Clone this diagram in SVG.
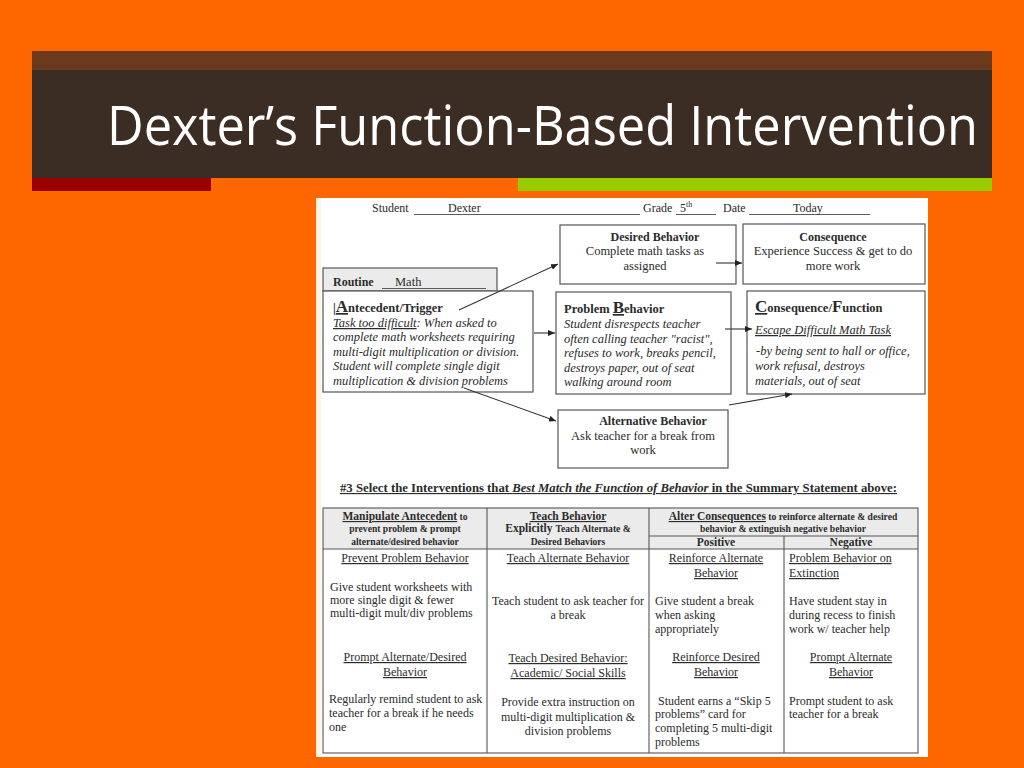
<svg xmlns="http://www.w3.org/2000/svg" width="1024" height="768" viewBox="0 0 1024 768">
<style>
  .t{font-family:"Liberation Serif","Times New Roman",serif;font-size:12.5px;fill:#2b2b2b}
  .b{font-weight:bold}
  .i{font-style:italic}
  .m{text-anchor:middle}
  .u{text-decoration:underline}
  .s{font-size:12px}
  .h{font-size:11.5px;font-weight:bold}
  .hs{font-size:9.6px;font-weight:bold}
  .box{fill:#fff;stroke:#555;stroke-width:1.2}
  .grid{stroke:#555;stroke-width:1.1;fill:none}
  .con{stroke:#333;stroke-width:1.1;fill:none;marker-end:url(#ah)}
</style>
<defs>
  <marker id="ah" markerUnits="userSpaceOnUse" markerWidth="7" markerHeight="6" refX="7" refY="3" orient="auto">
    <path d="M0,0 L7,3 L0,6 Z" fill="#222"/>
  </marker>
</defs>
<rect width="1024" height="768" fill="#FE6600"/>
<g id="header">
  <rect x="32" y="51" width="960" height="19" fill="#6B3A1C"/>
  <rect x="32" y="70" width="960" height="108" fill="#3B2D24"/>
  <rect x="32" y="178" width="179" height="13" fill="#990000"/>
  <rect x="518" y="178" width="474" height="13" fill="#99CC00"/>
  <text transform="matrix(0.84,0,0,1,107,145)" x="0" y="0" font-family="Open Sans, Liberation Sans, sans-serif" font-size="54" fill="#fff" textLength="1037" lengthAdjust="spacingAndGlyphs">Dexter’s Function-Based Intervention</text>
</g>
<rect x="316" y="198" width="612" height="559" fill="#fff"/>
<rect x="316" y="198" width="5" height="559" fill="#FDF4E2"/>
<g id="form-line" class="t">
  <text x="372" y="212" class="s">Student</text>
  <text x="448" y="212" class="s">Dexter</text>
  <line x1="414" y1="214.5" x2="640" y2="214.5" stroke="#333" stroke-width="0.8"/>
  <text x="643" y="212" class="s">Grade</text>
  <text x="680" y="212" class="s">5<tspan font-size="8" dy="-5">th</tspan></text>
  <line x1="676" y1="214.5" x2="716" y2="214.5" stroke="#333" stroke-width="0.8"/>
  <text x="723" y="212" class="s">Date</text>
  <text x="793" y="212" class="s">Today</text>
  <line x1="749" y1="214.5" x2="870" y2="214.5" stroke="#333" stroke-width="0.8"/>
</g>
<g id="desired-behavior" class="t">
  <rect x="560" y="225" width="176" height="59" class="box"/>
  <text x="655" y="241" class="m b" font-size="12">Desired Behavior</text>
  <text x="645" y="255" class="m">Complete math tasks as</text>
  <text x="645" y="270" class="m">assigned</text>
</g>
<g id="consequence" class="t">
  <rect x="743" y="224" width="182" height="60" class="box"/>
  <text x="833" y="241" class="m b" font-size="12">Consequence</text>
  <text x="833" y="255" class="m">Experience Success &amp; get to do</text>
  <text x="833" y="270" class="m">more work</text>
</g>
<g id="routine" class="t">
  <rect x="323" y="268" width="174" height="23" fill="#EBEBEB" stroke="#555" stroke-width="1.2"/>
  <text x="333" y="286" class="b" font-size="12">Routine</text>
  <text x="395" y="286">Math</text>
  <line x1="382" y1="288.5" x2="486" y2="288.5" stroke="#333" stroke-width="0.8"/>
</g>
<g id="antecedent" class="t">
  <rect x="323" y="291" width="210" height="101" class="box"/>
  <text x="333" y="312" class="b" font-size="12.5">|<tspan class="u" font-size="17">A</tspan>ntecedent/Trigger</text>
  <text x="333" y="327" class="i"><tspan class="u">Task too difficult</tspan>: When asked to</text>
  <text x="333" y="341" class="i">complete math worksheets requiring</text>
  <text x="333" y="356" class="i">multi-digit multiplication or division.</text>
  <text x="333" y="370" class="i">Student will complete single digit</text>
  <text x="333" y="385" class="i">multiplication &amp; division problems</text>
</g>
<g id="problem-behavior" class="t">
  <rect x="556" y="292" width="175" height="102" class="box"/>
  <text x="564" y="313" class="b" font-size="12.5">Problem <tspan class="u" font-size="17">B</tspan>ehavior</text>
  <text x="564" y="328" class="i">Student disrespects teacher</text>
  <text x="564" y="343" class="i">often calling teacher "racist",</text>
  <text x="564" y="357" class="i">refuses to work, breaks pencil,</text>
  <text x="564" y="372" class="i">destroys paper, out of seat</text>
  <text x="564" y="386" class="i">walking around room</text>
</g>
<g id="consequence-function" class="t">
  <rect x="747" y="291" width="178" height="103" class="box"/>
  <text x="755" y="312" class="b" font-size="12.5"><tspan class="u" font-size="17">C</tspan>onsequence/<tspan font-size="17">F</tspan>unction</text>
  <text x="755" y="334" class="i u">Escape Difficult Math Task</text>
  <text x="756" y="355" class="i"> -by being sent to hall or office,</text>
  <text x="755" y="370" class="i">work refusal, destroys</text>
  <text x="755" y="385" class="i">materials, out of seat</text>
</g>
<g id="alternative-behavior" class="t">
  <rect x="558" y="410" width="170" height="58" class="box"/>
  <text x="653" y="425" class="m b" font-size="12">Alternative Behavior</text>
  <text x="643" y="440" class="m">Ask teacher for a break from</text>
  <text x="643" y="454" class="m">work</text>
</g>
<g id="connectors">
  <line x1="459" y1="310" x2="558" y2="264" class="con"/>
  <line x1="534" y1="333" x2="555" y2="333" class="con"/>
  <line x1="464" y1="388" x2="556" y2="421" class="con"/>
  <line x1="716" y1="263" x2="742" y2="263" class="con"/>
  <line x1="725" y1="329" x2="752" y2="329" class="con"/>
  <line x1="729" y1="405" x2="792" y2="394" class="con"/>
</g>
<g id="section-title" class="t">
  <text x="340" y="492" class="b u" font-size="11.5" textLength="557" lengthAdjust="spacingAndGlyphs">#3 Select the Interventions that <tspan class="i">Best Match the Function of Behavior</tspan> in the Summary Statement above:</text>
</g>
<g id="table" class="t">
  <rect x="323" y="508" width="595" height="41" fill="#EBEBEB"/>
  <rect x="323" y="508" width="595" height="245" class="grid"/>
  <line x1="323" y1="549" x2="918" y2="549" class="grid"/>
  <line x1="649" y1="536" x2="918" y2="536" class="grid"/>
  <line x1="487" y1="508" x2="487" y2="753" class="grid"/>
  <line x1="649" y1="508" x2="649" y2="753" class="grid"/>
  <line x1="784" y1="536" x2="784" y2="753" class="grid"/>
  <text x="405" y="520" class="m h"><tspan class="u">Manipulate Antecedent</tspan><tspan font-size="9.6"> to</tspan></text>
  <text x="405" y="532" class="m hs">prevent problem &amp; prompt</text>
  <text x="405" y="545" class="m hs">alternate/desired behavior</text>
  <text x="568" y="520" class="m h u">Teach Behavior</text>
  <text x="568" y="532" class="m h">Explicitly <tspan font-size="9.6">Teach Alternate  &amp;</tspan></text>
  <text x="568" y="545" class="m hs">Desired Behaviors</text>
  <text x="783" y="520" class="m h"><tspan class="u">Alter Consequences</tspan><tspan font-size="9.6"> to reinforce alternate &amp; desired</tspan></text>
  <text x="783" y="532" class="m hs">behavior &amp; extinguish negative behavior</text>
  <text x="716" y="546" class="m h">Positive</text>
  <text x="851" y="546" class="m h">Negative</text>
  <text x="405" y="562" class="m s u">Prevent Problem Behavior</text>
  <text x="330" y="591" class="s">Give student worksheets with</text>
  <text x="330" y="604" class="s">more single digit &amp; fewer</text>
  <text x="330" y="617" class="s">multi-digit mult/div problems</text>
  <text x="405" y="661" class="m s u">Prompt Alternate/Desired</text>
  <text x="405" y="676" class="m s u">Behavior</text>
  <text x="329" y="703" class="s">Regularly remind student to ask</text>
  <text x="329" y="717" class="s">teacher for a break if he needs</text>
  <text x="329" y="731" class="s">one</text>
  <text x="568" y="562" class="m s u">Teach Alternate Behavior</text>
  <text x="568" y="605" class="m s">Teach student to ask teacher for</text>
  <text x="568" y="619" class="m s">a break</text>
  <text x="568" y="662" class="m s u">Teach Desired Behavior:</text>
  <text x="568" y="677" class="m s u">Academic/ Social Skills</text>
  <text x="568" y="706" class="m s">Provide extra instruction on</text>
  <text x="568" y="721" class="m s">multi-digit multiplication &amp;</text>
  <text x="568" y="735" class="m s">division problems</text>
  <text x="716" y="562" class="m s u">Reinforce Alternate</text>
  <text x="716" y="577" class="m s u">Behavior</text>
  <text x="655" y="605" class="s">Give student a break</text>
  <text x="655" y="619" class="s">when asking</text>
  <text x="655" y="633" class="s">appropriately</text>
  <text x="716" y="661" class="m s u">Reinforce Desired</text>
  <text x="716" y="676" class="m s u">Behavior</text>
  <text x="658" y="705" class="s">Student earns a “Skip 5</text>
  <text x="655" y="718" class="s">problems” card for</text>
  <text x="655" y="732" class="s">completing 5 multi-digit</text>
  <text x="655" y="746" class="s">problems</text>
  <text x="789" y="562" class="s u">Problem Behavior on</text>
  <text x="789" y="577" class="s u">Extinction</text>
  <text x="789" y="605" class="s">Have student stay in</text>
  <text x="789" y="619" class="s">during recess to finish</text>
  <text x="789" y="633" class="s">work w/ teacher help</text>
  <text x="851" y="661" class="m s u">Prompt Alternate</text>
  <text x="851" y="676" class="m s u">Behavior</text>
  <text x="789" y="705" class="s">Prompt student to ask</text>
  <text x="789" y="718" class="s">teacher for a break</text>
</g>
</svg>
